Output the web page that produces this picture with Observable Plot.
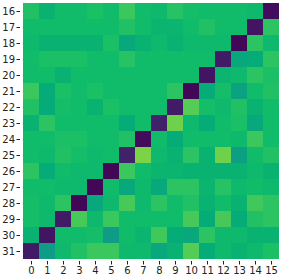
<!DOCTYPE html>
<html><head><meta charset="utf-8">
<script src="https://cdn.jsdelivr.net/npm/d3@7"></script>
<script src="https://cdn.jsdelivr.net/npm/@observablehq/plot@0.6"></script>
<style>body{margin:0;background:#fff;} svg{display:block;}</style>
</head><body><div id="chart"></div>
<script>
const columns = d3.range(0, 16);
const rows = d3.range(16, 32);
const values = [
  [0.68,0.62,0.65,0.65,0.67,0.65,0.72,0.65,0.64,0.69,0.66,0.65,0.65,0.65,0.64,0.03],
  [0.65,0.65,0.65,0.65,0.65,0.65,0.68,0.65,0.63,0.63,0.65,0.68,0.65,0.65,0.06,0.70],
  [0.64,0.62,0.62,0.62,0.62,0.67,0.58,0.62,0.64,0.62,0.64,0.64,0.64,0.02,0.70,0.64],
  [0.65,0.67,0.67,0.67,0.65,0.65,0.69,0.65,0.65,0.65,0.65,0.65,0.08,0.58,0.60,0.70],
  [0.65,0.65,0.62,0.65,0.65,0.65,0.65,0.65,0.65,0.65,0.65,0.06,0.63,0.64,0.70,0.67],
  [0.72,0.60,0.67,0.65,0.67,0.65,0.65,0.65,0.65,0.70,0.02,0.60,0.66,0.55,0.65,0.68],
  [0.68,0.60,0.66,0.65,0.62,0.67,0.65,0.65,0.65,0.08,0.76,0.66,0.64,0.68,0.62,0.65],
  [0.62,0.70,0.65,0.65,0.65,0.65,0.60,0.65,0.10,0.80,0.64,0.60,0.65,0.67,0.58,0.65],
  [0.65,0.65,0.67,0.67,0.65,0.65,0.68,0.03,0.65,0.60,0.65,0.65,0.65,0.64,0.72,0.65],
  [0.65,0.64,0.68,0.66,0.64,0.65,0.10,0.82,0.64,0.62,0.70,0.62,0.80,0.54,0.65,0.68],
  [0.70,0.60,0.65,0.64,0.64,0.02,0.72,0.65,0.63,0.63,0.62,0.62,0.62,0.62,0.64,0.62],
  [0.65,0.65,0.64,0.64,0.02,0.65,0.58,0.64,0.58,0.70,0.70,0.63,0.69,0.64,0.65,0.64],
  [0.66,0.64,0.70,0.02,0.58,0.64,0.74,0.64,0.70,0.65,0.68,0.62,0.65,0.62,0.73,0.70],
  [0.66,0.64,0.08,0.74,0.64,0.72,0.65,0.65,0.65,0.65,0.74,0.60,0.74,0.60,0.68,0.70],
  [0.62,0.06,0.65,0.65,0.66,0.52,0.65,0.63,0.73,0.60,0.58,0.70,0.64,0.64,0.62,0.62],
  [0.08,0.52,0.64,0.68,0.72,0.72,0.64,0.64,0.58,0.62,0.76,0.60,0.64,0.62,0.64,0.67]
];
const colorStops = [0, 0.25, 0.5, 0.6, 0.65, 0.7, 0.8, 1];
const colorRange = ["#440154", "#3b528b", "#10988a", "#06ac78", "#10bb69", "#2cc462", "#6ed14c", "#fde725"];

const table = [];
rows.forEach((r, i) => columns.forEach((c, j) => table.push({row: r, col: c, v: values[i][j]})));

const chart = Plot.plot({
  width: 282, height: 279,
  marginLeft: 20, marginRight: 1, marginTop: 0, marginBottom: 18,
  style: {fontFamily: "DejaVu Sans", fontSize: "10px", color: "#222"},
  x: {type: "band", domain: columns, padding: 0, label: null, tickSize: 3.5, tickPadding: 2},
  y: {type: "band", domain: rows, padding: 0, label: null, tickSize: 3.5, tickPadding: 2},
  color: {type: "linear", domain: colorStops, range: colorRange, interpolate: "rgb"},
  marks: [
    Plot.cell(table, {x: "col", y: "row", fill: "v", inset: 0})
  ]
});
document.getElementById("chart").appendChild(chart);
</script></body></html>
